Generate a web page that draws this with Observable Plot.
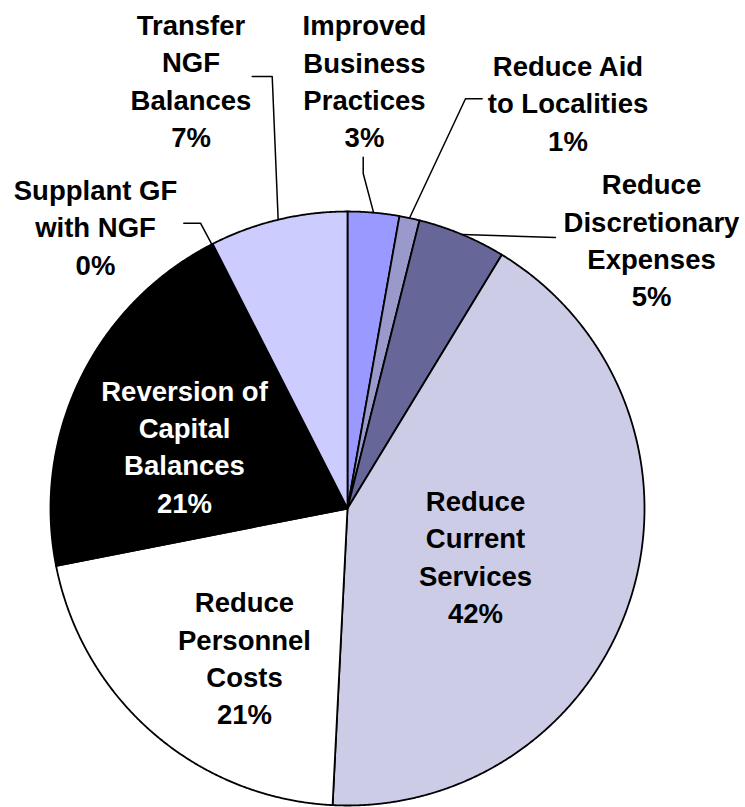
<!DOCTYPE html>
<html><head><meta charset="utf-8">
<script src="https://cdn.jsdelivr.net/npm/d3@7"></script>
<script src="https://cdn.jsdelivr.net/npm/@observablehq/plot@0.6"></script>
<style>body{margin:0;background:#fff}</style>
</head><body><div id="chart"></div>
<script>
// ---- data ----
const categories = [
  "Improved\nBusiness\nPractices",
  "Reduce Aid\nto Localities",
  "Reduce\nDiscretionary\nExpenses",
  "Reduce\nCurrent\nServices",
  "Reduce\nPersonnel\nCosts",
  "Reversion of\nCapital\nBalances",
  "Supplant GF\nwith NGF",
  "Transfer\nNGF\nBalances"
];
const values = [2.8, 1.1, 4.8, 42.1, 21.1, 20.5, 0.1, 7.5];
const pctLabels = ["3%", "1%", "5%", "42%", "21%", "21%", "0%", "7%"];

// ---- styles ----
const sliceColors = ["#9999FF", "#9999CC", "#666699", "#CCCCE6", "#FFFFFF", "#000000", "#FFFFCC", "#CCCCFF"];
const labelColors = ["#000", "#000", "#000", "#000", "#000", "#FFF", "#000", "#000"];

// ---- layout (pie units, radius = 1) ----
const labelPos = [
  [0.0572, 1.4446], [0.7424, 1.3704], [1.0236, 0.9094], [0.431, -0.1566],
  [-0.3468, -0.4976], [-0.5488, 0.2145], [-0.8485, 0.9532], [-0.5269, 1.4461]
];
const leaderPos = [
  [[0.0529, 1.1828], [0.0529, 1.128]],
  [[0.4535, 1.3795], [0.3973, 1.3795]],
  [[0.7003, 0.9125]],
  null, null, null,
  [[-0.5512, 0.9606], [-0.4949, 0.9606]],
  [[-0.3209, 1.4545], [-0.2535, 1.4545]]
];

// ---- build tables ----
const total = d3.sum(values);
let cum = 0;
const slices = values.map((v, i) => {
  const a0 = cum / total * 2 * Math.PI;
  cum += v;
  const a1 = cum / total * 2 * Math.PI;
  return {i, a0, a1, mid: (a0 + a1) / 2};
});
const slicePts = [];
for (const s of slices) {
  slicePts.push({k: s.i, x: 0, y: 0, c: sliceColors[s.i]});
  const n = Math.max(2, Math.ceil((s.a1 - s.a0) / (Math.PI / 720)));
  for (let j = 0; j <= n; j++) {
    const t = s.a0 + (s.a1 - s.a0) * j / n;
    slicePts.push({k: s.i, x: Math.sin(t), y: Math.cos(t), c: sliceColors[s.i]});
  }
  slicePts.push({k: s.i, x: 0, y: 0, c: sliceColors[s.i]});
}
const leaderPts = [];
slices.forEach(s => {
  const lp = leaderPos[s.i];
  if (!lp) return;
  lp.forEach(p => leaderPts.push({k: s.i, x: p[0], y: p[1]}));
  leaderPts.push({k: s.i, x: Math.sin(s.mid), y: Math.cos(s.mid)});
});
const labels = categories.map((c, i) => ({
  text: c + "\n" + pctLabels[i],
  x: labelPos[i][0], y: labelPos[i][1], fill: labelColors[i]
}));

const chart = Plot.plot({
  width: 745, height: 807, margin: 0,
  x: {domain: [-1, 1], range: [50, 644], axis: null},
  y: {domain: [-1, 1], range: [805, 211], axis: null},
  color: {type: "identity"},
  style: {background: "white", overflow: "visible"},
  marks: [
    Plot.line(slicePts, {x: "x", y: "y", z: "k", fill: "c", stroke: "black", strokeWidth: 1.8, strokeLinejoin: "round"}),
    Plot.line(leaderPts, {x: "x", y: "y", z: "k", stroke: "black", strokeWidth: 1.5}),
    Plot.text(labels, {
      x: "x", y: "y", text: "text", fill: "fill",
      fontSize: 27.5, fontWeight: "bold", fontFamily: "'Liberation Sans', Arial, sans-serif",
      lineHeight: 1.356, textAnchor: "middle", lineAnchor: "middle"
    })
  ]
});
document.getElementById("chart").appendChild(chart);
</script>
</body></html>
